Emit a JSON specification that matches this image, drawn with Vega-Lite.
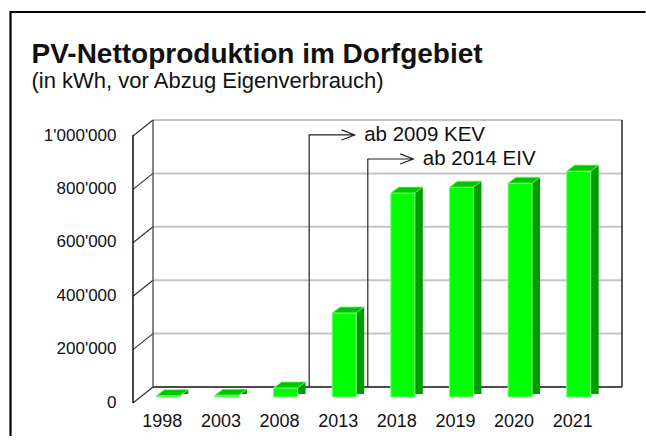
{
  "$schema": "https://vega.github.io/schema/vega-lite/v6.json",
  "width": 635.5,
  "height": 425,
  "autosize": {"type": "none"},
  "padding": {"left": 10.5, "top": 12, "right": 0, "bottom": 0},
  "config": {
    "locale": {"number": {"decimal": ".", "thousands": "'", "grouping": [3], "currency": ["", ""]}},
    "view": {"stroke": null},
    "font": "Liberation Sans"
  },
  "title": {
    "text": "PV-Nettoproduktion im Dorfgebiet",
    "subtitle": "(in kWh, vor Abzug Eigenverbrauch)",
    "anchor": "start",
    "frame": "group",
    "orient": "top",
    "dx": 21,
    "dy": 82,
    "offset": 0,
    "font": "Liberation Sans",
    "fontSize": 28,
    "fontWeight": "bold",
    "color": "#111111",
    "subtitleFont": "Liberation Sans",
    "subtitleFontSize": 22,
    "subtitleColor": "#111111",
    "subtitlePadding": 2
  },
  "datasets": {
    "prod": [
      {"year": "1998", "kwh": 5000},
      {"year": "2003", "kwh": 7000},
      {"year": "2008", "kwh": 34000},
      {"year": "2013", "kwh": 315000},
      {"year": "2018", "kwh": 764000},
      {"year": "2019", "kwh": 786000},
      {"year": "2020", "kwh": 801000},
      {"year": "2021", "kwh": 846000}
    ],
    "ticks": [
      {"v": 0}, {"v": 200000}, {"v": 400000}, {"v": 600000}, {"v": 800000}, {"v": 1000000}
    ],
    "notes": [
      {"year": "2008", "level": 944000, "label": "ab 2009 KEV"},
      {"year": "2013", "level": 854000, "label": "ab 2014 EIV"}
    ]
  },
  "layer": [
    {
      "layer": [
        {
          "data": {"name": "ticks"},
          "transform": [{"filter": "datum.v > 0"}],
          "mark": {"type": "rule", "color": "#c4c4c4", "strokeWidth": 2},
          "encoding": {
            "x": {"datum": 0, "type": "quantitative", "scale": {"domain": [0, 1], "range": [142.5, 611.5]}, "axis": null},
            "x2": {"datum": 1},
            "y": {
              "field": "v", "type": "quantitative",
              "scale": {"domain": [0, 1000000], "range": [375, 108], "nice": false, "zero": true},
              "axis": {
                "orient": "left", "title": null,
                "values": [0, 200000, 400000, 600000, 800000, 1000000],
                "format": ",d",
                "offset": -105.5, "labelPadding": 0,
                "ticks": false, "tickSize": 0, "domain": false, "grid": false,
                "labelOffset": 15, "labelFontSize": 17, "labelColor": "#111111",
                "labelFont": "Liberation Sans", "labelOverlap": false
              }
            }
          }
        },
        {
          "data": {"name": "ticks"},
          "transform": [{"filter": "datum.v == 0"}],
          "mark": {"type": "rule", "color": "#111111", "strokeWidth": 1.5},
          "encoding": {
            "x": {"datum": 0, "type": "quantitative"},
            "x2": {"datum": 1},
            "y": {"field": "v", "type": "quantitative"}
          }
        },
        {
          "data": {"name": "ticks"},
          "mark": {"type": "rule", "color": "#333333", "strokeWidth": 1.2, "xOffset": -20, "yOffset": 16},
          "encoding": {
            "x": {"datum": 0, "type": "quantitative"},
            "x2": {"datum": 0},
            "y": {"field": "v", "type": "quantitative"},
            "y2": {"field": "v"}
          }
        },
        {
          "data": {"name": "ticks"},
          "transform": [{"filter": "datum.v == 0"}],
          "mark": {"type": "rule", "color": "#444444", "strokeWidth": 1.3},
          "encoding": {
            "x": {"datum": 0, "type": "quantitative"},
            "y": {"field": "v", "type": "quantitative"},
            "y2": {"datum": 1000000}
          }
        },
        {
          "data": {"name": "ticks"},
          "transform": [{"filter": "datum.v == 0"}],
          "mark": {"type": "rule", "color": "#333333", "strokeWidth": 1.6},
          "encoding": {
            "x": {"datum": 1, "type": "quantitative"},
            "y": {"field": "v", "type": "quantitative"},
            "y2": {"datum": 1000000}
          }
        },
        {
          "data": {"name": "ticks"},
          "transform": [{"filter": "datum.v == 0"}],
          "mark": {"type": "rule", "color": "#111111", "strokeWidth": 1.5, "xOffset": -20, "yOffset": 16, "y2Offset": 15},
          "encoding": {
            "x": {"datum": 0, "type": "quantitative"},
            "y": {"field": "v", "type": "quantitative"},
            "y2": {"datum": 1000000}
          }
        },
        {
          "data": {"name": "ticks"},
          "transform": [{"filter": "datum.v == 1000000"}],
          "mark": {"type": "rule", "color": "#000000", "strokeWidth": 2.2, "xOffset": -142.5, "x2Offset": 23.5, "yOffset": -108},
          "encoding": {
            "x": {"datum": 0, "type": "quantitative"},
            "x2": {"datum": 1},
            "y": {"field": "v", "type": "quantitative"}
          }
        },
        {
          "data": {"name": "ticks"},
          "transform": [{"filter": "datum.v == 1000000"}],
          "mark": {"type": "rule", "color": "#000000", "strokeWidth": 2.2, "xOffset": -142.5, "yOffset": -109, "y2Offset": 49},
          "encoding": {
            "x": {"datum": 0, "type": "quantitative"},
            "y": {"field": "v", "type": "quantitative"},
            "y2": {"datum": 0}
          }
        }
      ]
    },
    {
      "layer": [
        {
          "data": {"name": "prod"},
          "mark": {"type": "bar", "color": "#009c00", "width": 8, "xOffset": 2, "x2Offset": 2, "yOffset": 4, "y2Offset": 7},
          "encoding": {
            "x": {
              "field": "year", "type": "ordinal",
              "scale": {"domain": ["1998", "2003", "2008", "2013", "2018", "2019", "2020", "2021"], "range": [142.5, 611.5], "paddingInner": 0.59, "paddingOuter": 0.295},
              "axis": {
                "orient": "bottom", "title": null, "labelAngle": 0,
                "labelOffset": -20, "offset": -16, "labelPadding": 0,
                "ticks": false, "tickSize": 0, "domain": false,
                "labelFontSize": 18, "labelBaseline": "middle",
                "labelColor": "#111111", "labelFont": "Liberation Sans"
              }
            },
            "y": {"field": "kwh", "type": "quantitative"},
            "y2": {"datum": 0}
          }
        },
        {
          "data": {"name": "prod"},
          "mark": {"type": "bar", "fill": "#00ff00", "stroke": "#80ff80", "strokeWidth": 1, "xOffset": -14, "x2Offset": -14, "yOffset": 10, "y2Offset": 10},
          "encoding": {
            "x": {"field": "year", "type": "ordinal"},
            "y": {"field": "kwh", "type": "quantitative"},
            "y2": {"datum": 0}
          }
        },
        {
          "data": {"name": "prod"},
          "mark": {"type": "point", "shape": "M-1,0.1875L0.5,0.1875L1,-0.1875L-0.5,-0.1875Z", "size": 1024, "filled": true, "fill": "#00c400", "stroke": "#80ff80", "strokeWidth": 0.8, "opacity": 1, "xOffset": -10, "yOffset": 7},
          "encoding": {
            "x": {"field": "year", "type": "ordinal"},
            "y": {"field": "kwh", "type": "quantitative"}
          }
        },
        {
          "data": {"name": "notes"},
          "mark": {"type": "rule", "color": "#222222", "strokeWidth": 1.2},
          "encoding": {
            "x": {"field": "year", "type": "ordinal", "bandPosition": 0.9},
            "y": {"field": "level", "type": "quantitative"},
            "y2": {"datum": 0}
          }
        },
        {
          "data": {"name": "notes"},
          "mark": {"type": "point", "shape": "M-1,0L1,0M0.43,-0.22L1,0L0.43,0.22", "size": 2116, "filled": false, "stroke": "#222222", "strokeWidth": 1.2, "opacity": 1, "xOffset": 22.5},
          "encoding": {
            "x": {"field": "year", "type": "ordinal", "bandPosition": 0.9},
            "y": {"field": "level", "type": "quantitative"}
          }
        },
        {
          "data": {"name": "notes"},
          "mark": {"type": "text", "align": "left", "baseline": "middle", "dx": 55, "fontSize": 20.5, "color": "#111111", "font": "Liberation Sans"},
          "encoding": {
            "x": {"field": "year", "type": "ordinal", "bandPosition": 0.9},
            "y": {"field": "level", "type": "quantitative"},
            "text": {"field": "label"}
          }
        }
      ]
    }
  ],
  "resolve": {"scale": {"x": "independent"}}
}
